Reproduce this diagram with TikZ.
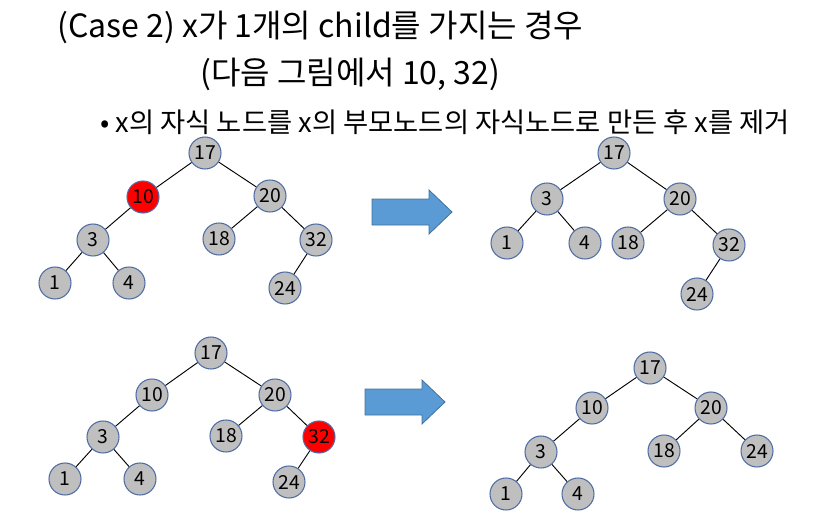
\documentclass[tikz,border=0pt]{standalone}
\usepackage{fontspec}
\setmainfont{Noto Sans CJK KR}
\definecolor{nodegray}{RGB}{191,191,191}
\definecolor{nodeborder}{RGB}{80,110,165}
\definecolor{arrowblue}{RGB}{91,155,213}
\definecolor{arrowedge}{RGB}{65,113,156}
\tikzset{
  tn/.style={circle,draw=nodeborder,line width=0.8pt,fill=nodegray,minimum size=24pt,inner sep=0pt,font=\fontsize{14.5}{14.5}\selectfont},
  rn/.style={tn,fill=red},
  ed/.style={black,line width=0.7pt},
  bigarrow/.style={draw=arrowedge,fill=arrowblue,line width=0.6pt}
}
\newcommand{\blockarrow}[2]{% left x, center y
  \fill[bigarrow] (#1,#2-13) -- (#1+57,#2-13) -- (#1+57,#2-22) -- (#1+80,#2) -- (#1+57,#2+22) -- (#1+57,#2+13) -- (#1,#2+13) -- cycle;}
\begin{document}
\begin{tikzpicture}[x=0.75pt,y=-0.75pt]
\useasboundingbox (0,0) rectangle (816,528);
\node[anchor=west,inner sep=0pt,font=\fontsize{24}{24}\selectfont] (t1) at (57,27) {(Case 2) x가 1개의 child를 가지는 경우};
\node[anchor=west,inner sep=0pt,font=\fontsize{24}{24}\selectfont] (t2) at (200,74) {(다음 그림에서 10, 32)};
\node[anchor=west,inner sep=0pt,font=\fontsize{20.5}{20.5}\selectfont] (t3) at (100,122) {• x의 자식 노드를 x의 부모노드의 자식노드로 만든 후 x를 제거};
% tree A
\node[tn] (a17) at (205,153) {17};
\node[rn] (a10) at (143,197) {10};
\node[tn] (a20) at (270,196) {20};
\node[tn] (a3) at (93,240) {3};
\node[tn] (a18) at (219,239) {18};
\node[tn] (a32) at (316,240) {32};
\node[tn] (a1) at (55,283) {1};
\node[tn] (a4) at (129,283) {4};
\node[tn] (a24) at (285,288) {24};
\draw[ed] (a17)--(a10) (a17)--(a20) (a10)--(a3) (a3)--(a1) (a3)--(a4) (a20)--(a18) (a20)--(a32) (a32)--(a24);
\blockarrow{372}{212}
% tree B
\node[tn] (b17) at (614,153) {17};
\node[tn] (b3) at (547,199) {3};
\node[tn] (b20) at (680,199) {20};
\node[tn] (b1) at (507,243) {1};
\node[tn] (b4) at (585,243) {4};
\node[tn] (b18) at (628,243) {18};
\node[tn] (b32) at (729,245) {32};
\node[tn] (b24) at (697,294) {24};
\draw[ed] (b17)--(b3) (b17)--(b20) (b3)--(b1) (b3)--(b4) (b20)--(b18) (b20)--(b32) (b32)--(b24);
% tree C
\node[tn] (c17) at (211,353) {17};
\node[tn] (c10) at (152,395) {10};
\node[tn] (c20) at (275,395) {20};
\node[tn] (c3) at (103,437) {3};
\node[tn] (c18) at (226,436) {18};
\node[rn] (c32) at (319,437) {32};
\node[tn] (c1) at (65,479) {1};
\node[tn] (c4) at (140,479) {4};
\node[tn] (c24) at (289,482) {24};
\draw[ed] (c17)--(c10) (c17)--(c20) (c10)--(c3) (c3)--(c1) (c3)--(c4) (c20)--(c18) (c20)--(c32) (c32)--(c24);
\blockarrow{365}{402}
% tree D
\node[tn] (d17) at (650,368) {17};
\node[tn] (d10) at (592,408) {10};
\node[tn] (d20) at (711,408) {20};
\node[tn] (d3) at (541,452) {3};
\node[tn] (d18) at (664,451) {18};
\node[tn] (d24) at (757,451) {24};
\node[tn] (d1) at (506,494) {1};
\node[tn] (d4) at (578,494) {4};
\draw[ed] (d17)--(d10) (d17)--(d20) (d10)--(d3) (d3)--(d1) (d3)--(d4) (d20)--(d18) (d20)--(d24);
\end{tikzpicture}
\end{document}
